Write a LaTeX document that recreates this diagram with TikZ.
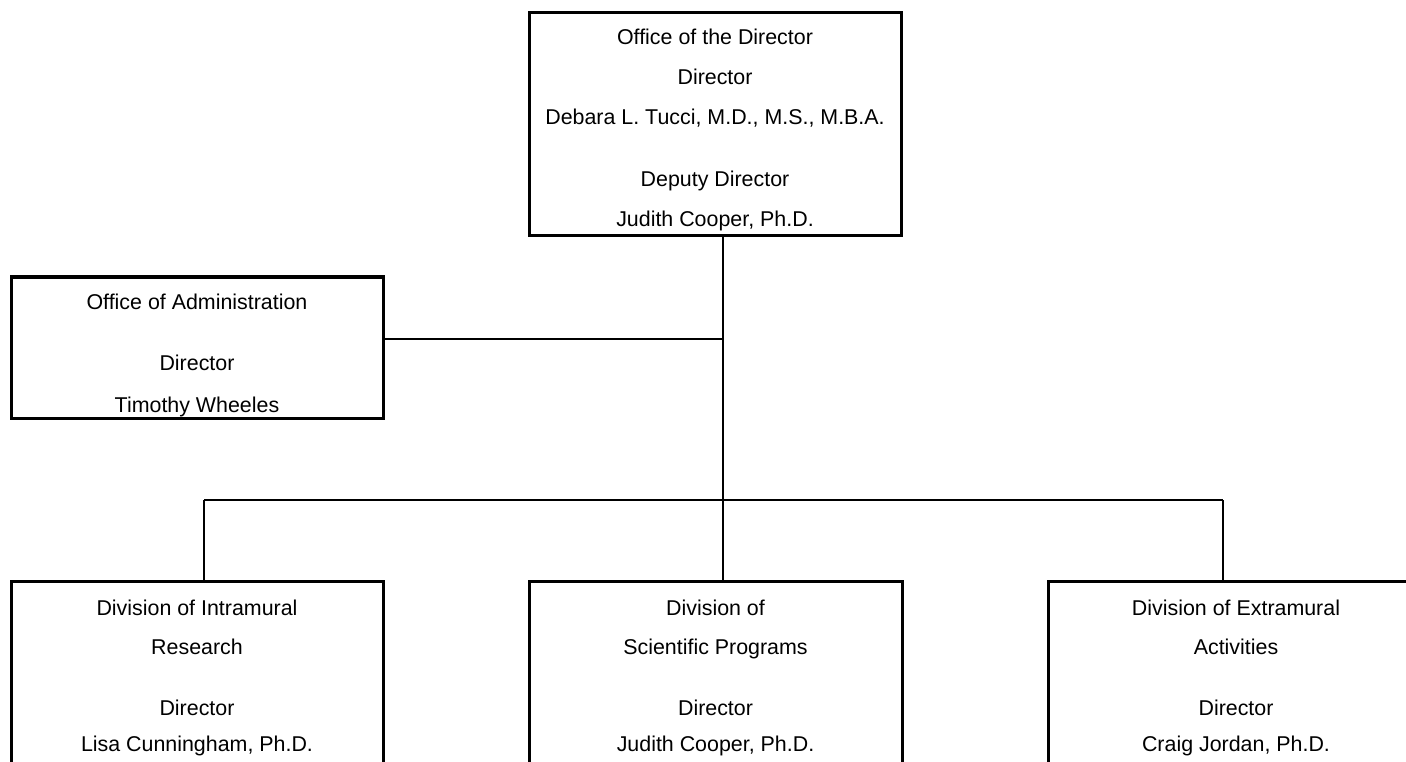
\documentclass[tikz,border=0pt]{standalone}
\usepackage{fontspec}
\setmainfont{Liberation Sans}
\begin{document}
\begin{tikzpicture}[x=1pt,y=-1pt,
  orgbox/.style={draw=black,line width=3pt,rectangle,inner sep=0pt,outer sep=0pt},
  lbl/.style={anchor=base,inner sep=0pt,font=\fontsize{21.4}{25}\selectfont},
  conn/.style={draw=black,line width=2pt}]
\useasboundingbox (0,0) rectangle (1406,762);
\clip (0,0) rectangle (1406,762);
% boxes
\node[orgbox,minimum width=372pt,minimum height=223pt] (top) at (715,124.5) {};
\node[orgbox,minimum width=372pt,minimum height=141pt] (admin) at (197,347.5) {};
\node[orgbox,minimum width=372pt,minimum height=300pt] (bl) at (197,731) {};
\node[orgbox,minimum width=373pt,minimum height=300pt] (bm) at (715.5,731) {};
\node[orgbox,minimum width=374pt,minimum height=300pt] (br) at (1235,731) {};
% top box text
\node[lbl] (t1) at (715,45) {Office of the Director};
\node[lbl] (t2) at (715,85) {Director};
\node[lbl] (t3) at (715,125) {Debara L. Tucci, M.D., M.S., M.B.A.};
\node[lbl] (t4) at (715,187) {Deputy Director};
\node[lbl] (t5) at (715,227) {Judith Cooper, Ph.D.};
% admin text
\node[lbl] (a1) at (197,309) {Office of Administration};
\node[lbl] (a2) at (197,370) {Director};
\node[lbl] (a3) at (197,412) {Timothy Wheeles};
% bottom left
\node[lbl] (l1) at (197,615) {Division of Intramural};
\node[lbl] (l2) at (197,654) {Research};
\node[lbl] (l3) at (197,715) {Director};
\node[lbl] (l4) at (197,751) {Lisa Cunningham, Ph.D.};
% bottom middle
\node[lbl] (m1) at (715.5,615) {Division of};
\node[lbl] (m2) at (715.5,654) {Scientific Programs};
\node[lbl] (m3) at (715.5,715) {Director};
\node[lbl] (m4) at (715.5,751) {Judith Cooper, Ph.D.};
% bottom right
\node[lbl] (r1) at (1236,615) {Division of Extramural};
\node[lbl] (r2) at (1236,654) {Activities};
\node[lbl] (r3) at (1236,715) {Director};
\node[lbl] (r4) at (1236,751) {Craig Jordan, Ph.D.};
% connectors
\coordinate (j1) at (723,339);
\coordinate (j2) at (723,500);
\coordinate (hl) at (204,500);
\coordinate (hr) at (1223,500);
\draw[conn] (top.south -| j1) -- (j2);
\draw[conn] (admin.east |- j1) -- (j1);
\draw[conn] (hl) -- (hr);
\draw[conn] (hl) -- (hl |- bl.north);
\draw[conn] (hr) -- (hr |- br.north);
\draw[conn] (j2) -- (j2 |- bm.north);
\end{tikzpicture}
\end{document}
